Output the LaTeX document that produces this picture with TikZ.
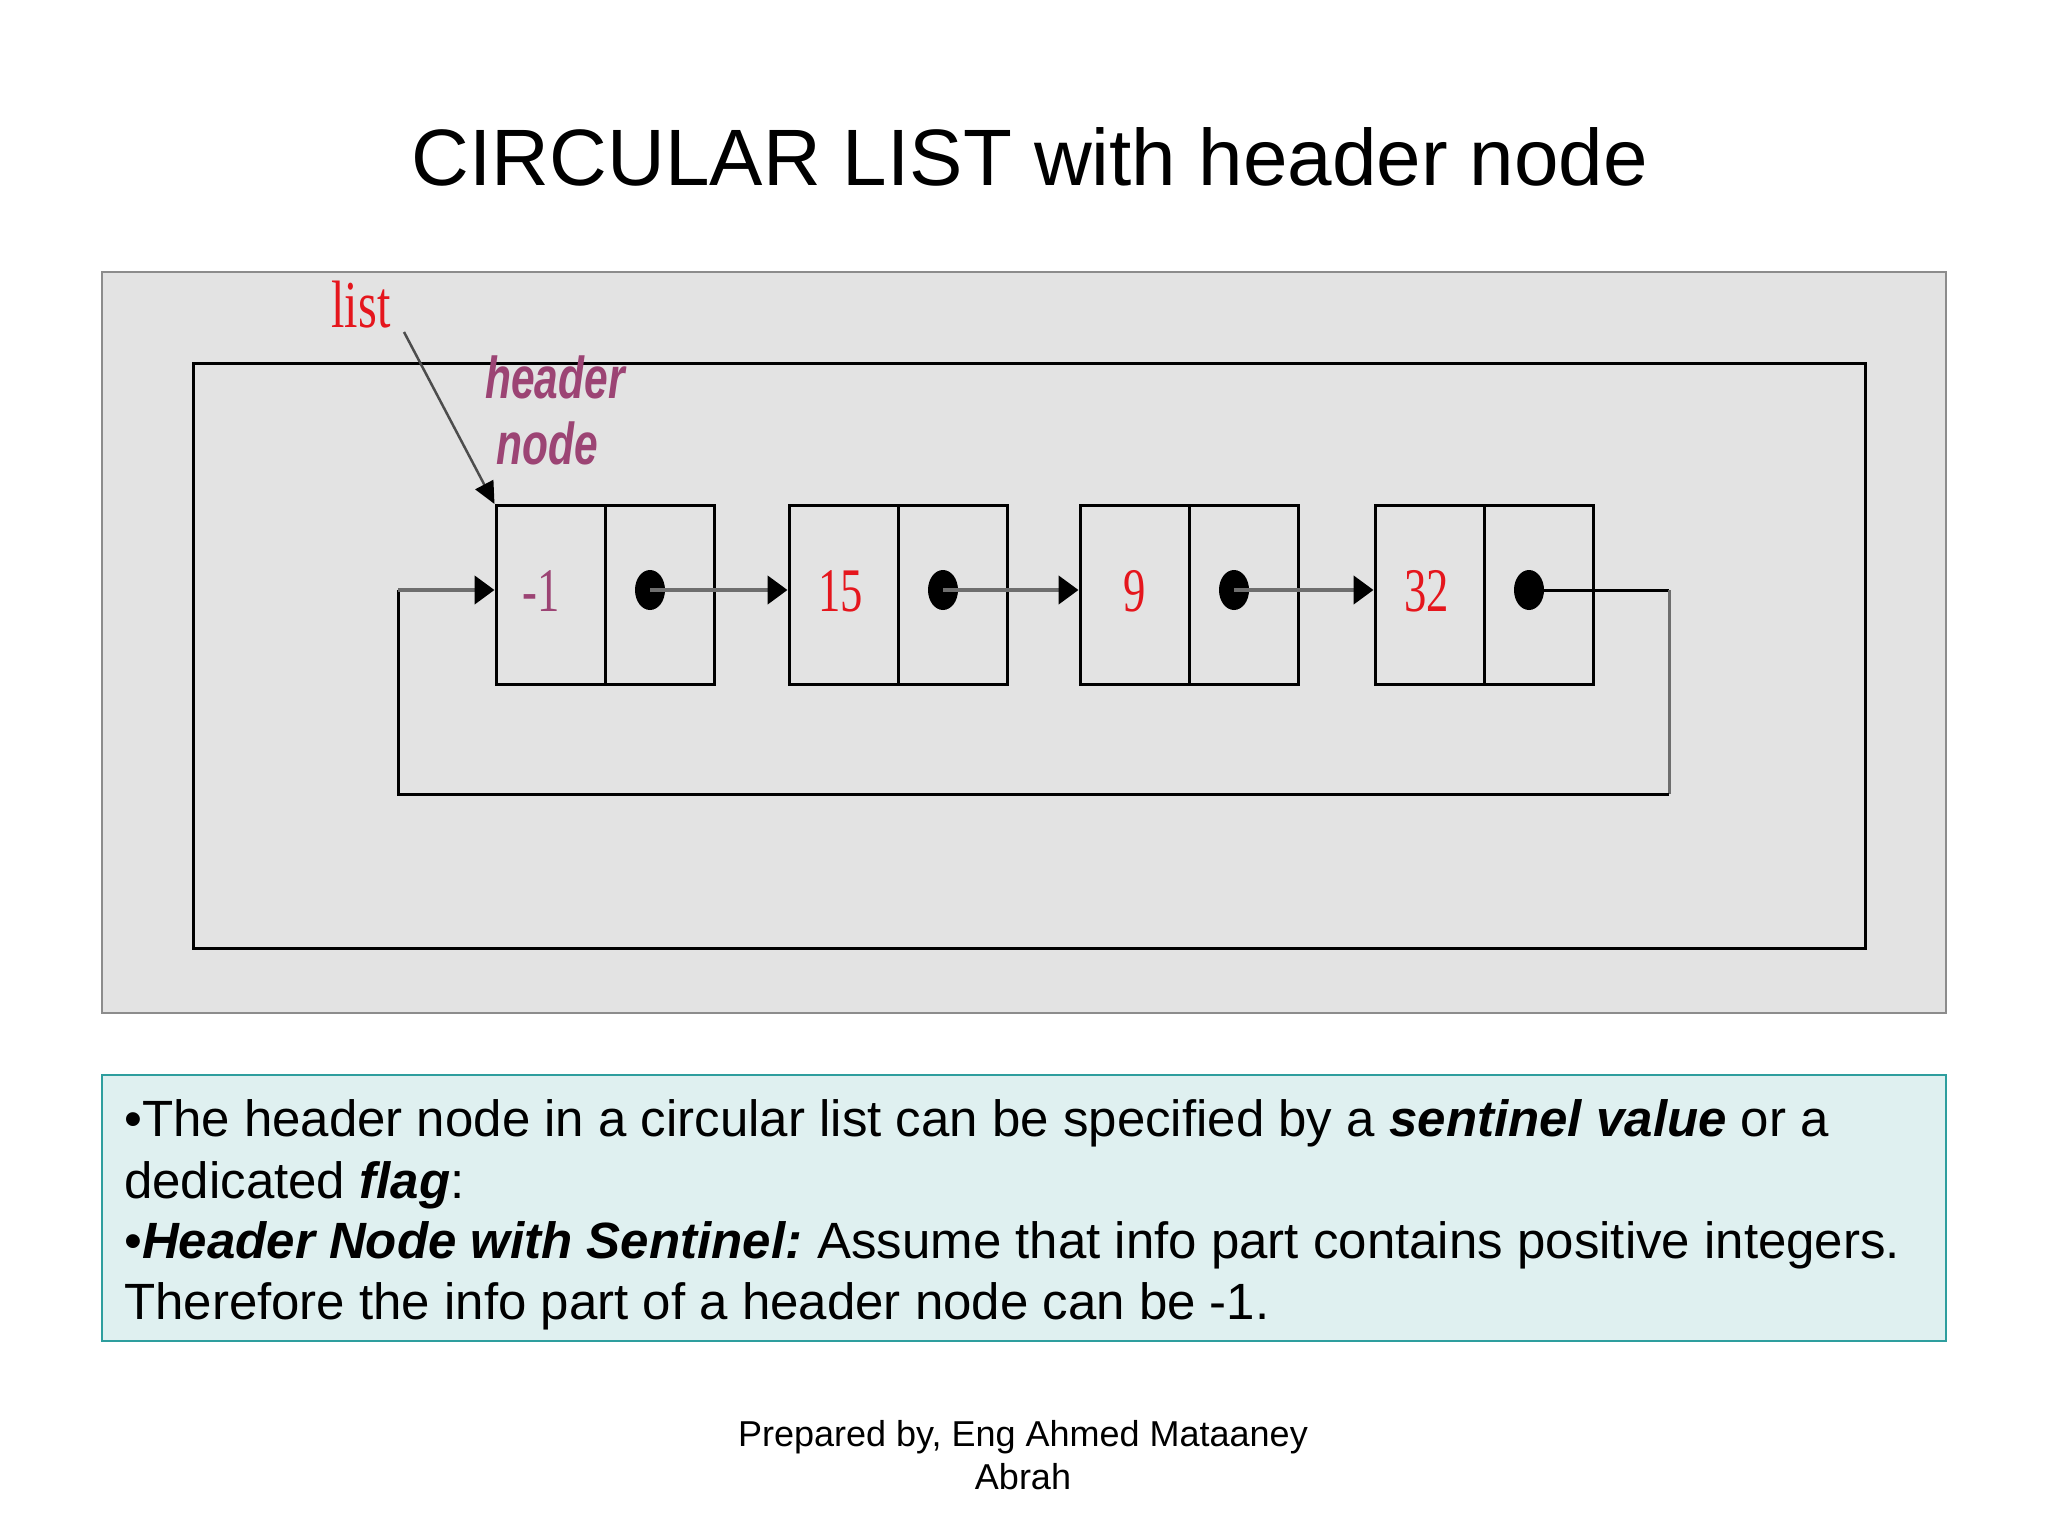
\documentclass[tikz,border=0pt]{standalone}
\usepackage{fontspec}
\usepackage{graphicx}
\setmainfont{Liberation Sans}
\newfontfamily\numfont{Liberation Serif}
\usetikzlibrary{arrows.meta,shapes.geometric}
\definecolor{panelgray}{HTML}{E3E3E3}
\definecolor{panelborder}{HTML}{8C8C8C}
\definecolor{listred}{HTML}{E5161D}
\definecolor{hdrpurple}{HTML}{9C4474}
\definecolor{boxfill}{HTML}{DFF0F0}
\definecolor{boxborder}{HTML}{2E9E9E}
\definecolor{ptrgray}{HTML}{6E6E6E}
\tikzset{
  cell/.style={draw=black, line width=3pt, minimum width=109pt, minimum height=179pt, inner sep=0pt, anchor=center},
  numtxt/.style={font=\numfont\fontsize{62}{62}\selectfont},
  dotnode/.style={ellipse, fill=black, minimum width=30pt, minimum height=40pt, inner sep=0pt},
  ptr/.style={draw=ptrgray, line width=4.5pt, -{Triangle[length=20pt,width=28pt,fill=black,color=black]}},
  loopline/.style={draw=black, line width=3pt},
  bodytxt/.style={font=\fontsize{51}{61}\selectfont, anchor=base west, inner sep=0pt},
  foottxt/.style={font=\fontsize{36}{43}\selectfont, anchor=base, inner sep=0pt},
  hdrtxt/.style={text=hdrpurple, font=\bfseries\itshape\fontsize{59}{59}\selectfont, anchor=base, inner sep=0pt},
}
\begin{document}
\begin{tikzpicture}[x=1pt,y=-1pt]
\useasboundingbox (0,0) rectangle (2048,1536);
\fill[white] (0,0) rectangle (2048,1536);

% title
\node[font=\fontsize{80}{96}\selectfont, anchor=base, inner sep=0pt] (title) at (1030,185) {CIRCULAR LIST with header node};

% gray panel
\draw[draw=panelborder, fill=panelgray, line width=2pt] (102,272) rectangle (1946,1013);
% outer frame
\draw[black, line width=3pt] (193,363) rectangle (1865,948);

% list nodes
\foreach \i/\x/\v/\c/\k in {1/496/-1/hdrpurple/-18pt, 2/789/15/listred/-6pt, 3/1080/9/listred/0pt, 4/1375/32/listred/-6pt} {
  \node[cell, numtxt, text=\c] (n\i i) at (\x+54.5,595) {\hspace*{\k}\raisebox{8pt}{\scalebox{0.72}[1]{\v}}};
  \node[cell] (n\i p) at (\x+163.5,595) {};
  \node[dotnode] (d\i) at (\x+154,590) {};
}

% pointers
\draw[ptr] (d1.center) -- (d1 -| n2i.west);
\draw[ptr] (d2.center) -- (d2 -| n3i.west);
\draw[ptr] (d3.center) -- (d3 -| n4i.west);

% loop back
\coordinate (r1) at (1669,590);
\coordinate (r2) at (1669,794);
\coordinate (r3) at (398,794);
\coordinate (r4) at (398,590);
\draw[loopline] (d4.center) -- (r1);
\draw[loopline, draw=ptrgray] (r1) -- (r2);
\draw[loopline, line join=miter] (r2) -- (r3) -- (r4);
\draw[ptr] (r4) -- (r4 -| n1i.west);

% list label
\node[text=listred, font=\numfont\fontsize{67}{67}\selectfont, anchor=base, inner sep=0pt] (lst) at (361,327) {\scalebox{0.72}[1]{list}};
\coordinate (lstarrow) at (404,332);
\draw[draw=ptrgray!70!black, line width=2.5pt, -{Triangle[length=22pt,width=20pt,fill=black,color=black]}] (lstarrow) -- (n1i.north west);

% header node label
\node[hdrtxt] (hdr1) at (555,398) {\scalebox{0.72}[1]{header}};
\node[hdrtxt] (hdr2) at (547,464) {\scalebox{0.72}[1]{node}};

% text box
\draw[draw=boxborder, fill=boxfill, line width=2.5pt] (102,1075) rectangle (1946,1341);
\node[bodytxt] (t1) at (124,1136) {•The header node in a circular list can be specified by a {\bfseries\itshape sentinel value} or a};
\node[bodytxt] (t2) at (124,1198) {dedicated {\bfseries\itshape flag}:};
\node[bodytxt] (t3) at (124,1258) {•{\bfseries\itshape Header Node with Sentinel:}\hspace{-4pt} Assume that info part contains positive integers.};
\node[bodytxt] (t4) at (124,1319) {Therefore the info part of a header node can be -1.};

% footer
\node[foottxt] (f1) at (1023,1446) {Prepared by, Eng Ahmed Mataaney};
\node[foottxt] (f2) at (1023,1489) {Abrah};
\end{tikzpicture}
\end{document}
